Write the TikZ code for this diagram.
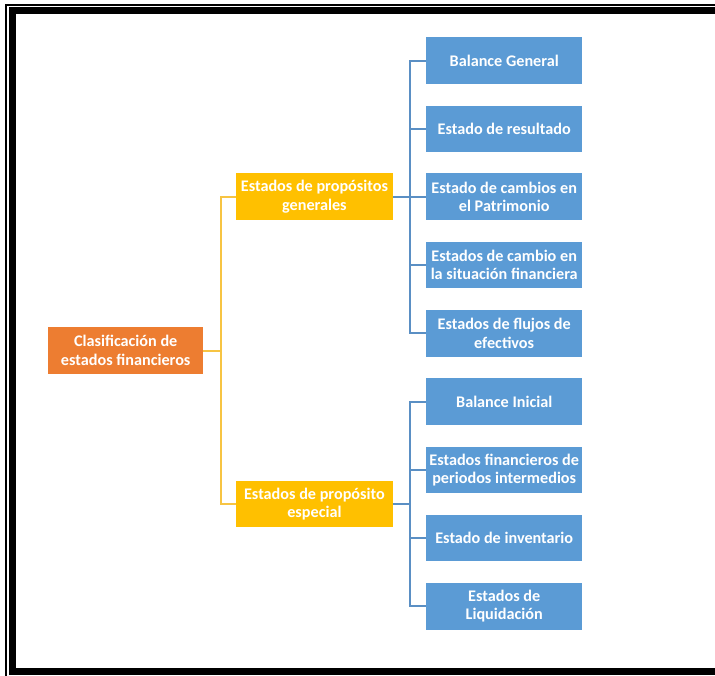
\documentclass[tikz,border=0pt]{standalone}
\usepackage{fontspec}
\setmainfont{Carlito}
\definecolor{rootc}{HTML}{ED7D31}
\definecolor{midc}{HTML}{FFC000}
\definecolor{leafc}{HTML}{5B9BD5}
\definecolor{blueln}{HTML}{5A8FC4}
\definecolor{yelln}{HTML}{F7C443}
\tikzset{
  box/.style={minimum width=156pt, minimum height=46.5pt, inner sep=0pt, align=center,
    text=white, font=\fontsize{16.2}{18.4}\selectfont\bfseries},
  rootbox/.style={box, fill=rootc, minimum width=155pt, minimum height=47.5pt},
  midbox/.style={box, fill=midc, minimum width=156.7pt, minimum height=46.7pt},
  leafbox/.style={box, fill=leafc},
  yline/.style={draw=yelln, line width=2pt},
  bline/.style={draw=blueln, line width=2pt},
}
\begin{document}
\begin{tikzpicture}[x=1pt,y=-1pt]
\useasboundingbox (0,0) rectangle (715,675);
\clip (0,0) rectangle (715,675);
\fill[white] (0,0) rectangle (715,675);
% border
\draw[line width=1.5pt] (5.8,5) rectangle (740,700);
\draw[line width=7pt] (12.8,10.3) rectangle (740,671.3);
% nodes
\node[rootbox] (root) at (125.7,350.5) {Clasificación de\\estados financieros};
\node[midbox] (g1) at (314.4,196.7) {Estados de propósitos\\generales};
\node[midbox] (g2) at (314.4,504) {Estados de propósito\\especial};
\node[leafbox] (a1) at (504.2,60.5) {Balance General};
\node[leafbox] (a2) at (504.2,128.8) {Estado de resultado};
\node[leafbox] (a3) at (504.2,196.7) {Estado de cambios en\\el Patrimonio};
\node[leafbox] (a4) at (504.2,265) {Estados de cambio en\\la situación financiera};
\node[leafbox] (a5) at (504.2,333.3) {Estados de flujos de\\efectivos};
\node[leafbox] (b1) at (504.2,401.7) {Balance Inicial};
\node[leafbox] (b2) at (504.2,470) {Estados financieros de\\periodos intermedios};
\node[leafbox] (b3) at (504.2,538) {Estado de inventario};
\node[leafbox] (b4) at (504.2,606.3) {Estados de\\Liquidación};
% connectors
\coordinate (ry) at (221,350.5);
\draw[yline] (root.east) -- (ry);
\draw[yline] (ry) |- (g1.west);
\draw[yline] (ry) |- (g2.west);
\coordinate (ga) at (410,196.7);
\coordinate (gb) at (410,504);
\draw[bline] (g1.east) -- (ga);
\foreach \n in {a1,a2,a3,a4,a5} \draw[bline] (ga) |- (\n.west);
\draw[bline] (g2.east) -- (gb);
\foreach \n in {b1,b2,b3,b4} \draw[bline] (gb) |- (\n.west);
\end{tikzpicture}
\end{document}
